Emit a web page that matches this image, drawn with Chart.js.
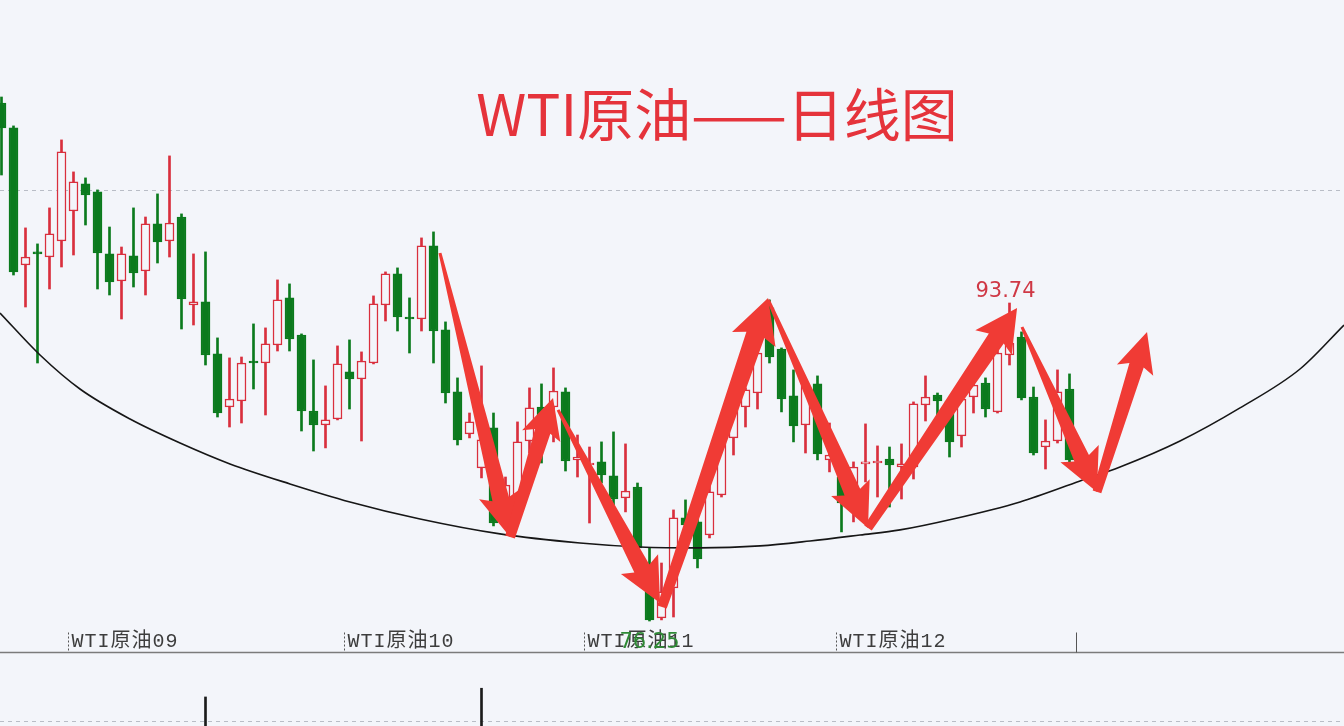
<!DOCTYPE html>
<html>
<head>
<meta charset="utf-8">
<script src="https://cdn.jsdelivr.net/npm/chart.js@4.4.1/dist/chart.umd.min.js"></script>
<style>
  html, body { margin: 0; padding: 0; background: #f3f5fa; }
  #wrap { width: 1344px; height: 726px; position: relative; }
</style>
</head>
<body>
<div id="wrap"><canvas id="kline"></canvas></div>
<script>
// daily candles, oldest first
const opens = [104.74,103.37,95.83,96.55,96.27,97.15,98.80,100.29,99.85,96.44,
  94.95,96.33,95.50,98.09,97.15,98.47,93.63,93.80,90.94,88.02,
  88.35,90.55,90.44,91.43,94.02,91.98,87.80,87.03,87.36,89.95,
  89.56,90.44,93.63,95.34,92.97,92.86,96.88,92.26,88.85,86.54,
  84.67,86.87,82.91,82.74,86.15,88.02,88.02,88.85,85.11,84.83,
  85.00,84.23,83.02,83.62,79.22,76.42,78.07,81.92,81.70,80.98,
  83.18,86.32,88.02,88.79,93.47,91.21,88.63,87.03,89.29,85.11,
  84.17,83.46,84.89,84.94,85.16,84.72,84.72,88.13,88.68,88.35,
  86.43,88.57,89.34,87.75,90.88,91.87,88.57,85.82,86.15,89.01];
const highs = [105.07,103.48,97.87,96.99,98.97,102.71,100.95,100.62,99.96,97.92,
  96.82,98.97,98.47,99.74,101.83,98.64,96.44,96.55,91.82,90.72,
  90.77,92.59,92.37,95.01,94.79,92.04,90.61,89.18,91.38,91.71,
  91.05,94.13,95.45,95.67,94.02,97.32,97.65,92.70,89.62,87.69,
  90.28,87.69,84.17,87.20,89.07,89.29,90.17,89.07,86.48,85.82,
  86.10,86.65,85.99,83.84,80.27,79.44,82.36,82.91,82.19,84.01,
  86.48,88.13,89.07,91.32,93.91,91.27,90.06,89.23,89.73,87.14,
  84.45,85.00,87.09,85.88,85.82,85.99,88.30,89.73,88.79,88.52,
  88.79,89.40,89.62,91.16,93.74,92.15,89.12,87.31,90.06,89.84];
const lows = [100.78,95.28,93.52,90.44,94.51,95.72,96.38,98.03,94.51,94.18,
  92.86,94.62,94.18,95.94,96.27,92.31,92.53,90.33,87.47,86.92,
  87.14,89.01,87.58,91.10,91.10,86.70,85.60,85.77,87.31,87.91,
  86.15,90.39,92.75,92.20,90.99,92.20,90.44,88.24,85.93,86.32,
  84.12,81.48,82.63,82.63,85.49,84.94,86.10,84.50,84.17,81.64,
  83.84,82.63,82.25,80.05,76.25,76.31,76.47,81.26,79.17,80.82,
  83.07,85.38,86.92,87.91,90.44,87.75,86.10,85.49,85.11,84.45,
  81.15,81.70,83.90,83.07,82.52,82.96,84.06,87.25,87.47,85.27,
  85.82,87.69,87.47,87.69,90.33,88.41,85.38,84.61,86.04,85.00];
const closes = [103.37,95.45,96.27,96.44,97.54,102.05,100.40,99.68,96.49,94.90,
  96.44,95.39,98.09,97.10,98.14,93.96,93.80,90.88,87.69,88.46,
  90.44,90.44,91.49,93.91,91.76,87.80,87.03,87.31,90.39,89.56,
  90.55,93.69,95.34,92.97,92.86,96.88,92.20,88.79,86.21,87.20,
  86.21,81.64,83.73,86.10,87.97,86.76,88.90,85.05,85.27,84.94,
  84.28,82.96,83.40,80.27,76.31,77.85,81.92,81.53,79.66,83.35,
  86.21,87.97,88.96,90.99,90.77,88.46,86.98,89.18,85.44,85.38,
  82.74,84.72,85.00,85.05,84.83,84.89,88.19,88.57,88.35,86.10,
  88.46,89.23,87.91,90.99,91.54,88.52,85.49,86.15,88.85,85.11];

// volume bars that reach into the visible strip (thousand lots)
const volIdx = [17, 40];
const volume = [40, 52];

// month boundaries on the time axis
const monthTicks = [5.5, 28.5, 48.5, 69.5, 89.5];
const monthLabels = ['WTI原油09', 'WTI原油10', 'WTI原油11', 'WTI原油12', ''];

// hand-drawn bowl curve (candle index, price)
const curveX = [-0.125, 3.21, 6.54, 10.71, 14.88, 19.04, 24.04, 29.04, 34.88, 41.54,
  48.21, 53.21, 58.21, 63.21, 67.38, 71.54, 74.88, 79.29, 84.88, 89.88,
  93.21, 98.21, 103.21, 108.21, 111.875];
const curveY = [93.19, 90.88, 89.01, 87.36, 86.04, 84.89, 83.79, 82.80, 81.86, 81.04,
  80.54, 80.32, 80.27, 80.38, 80.65, 80.98, 81.26, 81.86, 82.80, 83.95,
  84.72, 86.15, 87.97, 90.11, 92.53];

const refLevel = 99.96;
const highLabel = 84;
const lowLabel = 54;

// annotation arrows: from / to in (index, price)
const arrows = [
  { from: [36.54, 96.49], to: [42.38, 80.87], tail: 1.5, shaft: 8.5, head: 21, len: 44 },
  { from: [42.38, 80.87], to: [45.96, 88.52], tail: 5, shaft: 8, head: 20, len: 40 },
  { from: [46.38, 87.86], to: [54.88, 77.24], tail: 1.5, shaft: 8.5, head: 21, len: 44 },
  { from: [55.04, 77.02], to: [63.88, 94.02], tail: 5, shaft: 9.5, head: 23, len: 44 },
  { from: [63.90, 93.91], to: [72.21, 81.37], tail: 1.5, shaft: 8.5, head: 21, len: 44 },
  { from: [72.21, 81.37], to: [84.63, 93.47], tail: 4.5, shaft: 9, head: 22, len: 42 },
  { from: [85.04, 92.42], to: [91.29, 83.35], tail: 1.5, shaft: 8, head: 21, len: 42 },
  { from: [91.29, 83.35], to: [95.46, 92.15], tail: 4.5, shaft: 7.5, head: 19, len: 40 }
];

const bg = '#f3f5fa';
const upCol = '#d92f3d';
const downCol = '#0b7a1d';
const arrowCol = '#f03b35';

const idx = opens.map((_, i) => i);
const isUp = opens.map((o, i) => closes[i] > o);

const decor = {
  id: 'decor',
  beforeDatasetsDraw(chart) {
    const { ctx, chartArea: a, scales } = chart;
    ctx.save();
    ctx.strokeStyle = '#b9bdc6';
    ctx.lineWidth = 1;
    ctx.setLineDash([4, 4]);
    const ry = Math.round(scales.y.getPixelForValue(refLevel)) + 0.5;
    ctx.beginPath(); ctx.moveTo(a.left, ry); ctx.lineTo(a.right, ry); ctx.stroke();
    const vy = a.bottom - 4.5;
    ctx.beginPath(); ctx.moveTo(a.left, vy); ctx.lineTo(a.right, vy); ctx.stroke();
    ctx.restore();
  },
  afterDatasetsDraw(chart) {
    const { ctx, chartArea: a, scales } = chart;
    const px = v => scales.x.getPixelForValue(v);
    const py = v => scales.y.getPixelForValue(v);
    ctx.save();

    // arrows
    ctx.fillStyle = arrowCol;
    arrows.forEach(ar => {
      const sx = px(ar.from[0]), sy = py(ar.from[1]);
      const ex = px(ar.to[0]), ey = py(ar.to[1]);
      const d = Math.hypot(ex - sx, ey - sy);
      const ux = (ex - sx) / d, uy = (ey - sy) / d;
      const nx = -uy, ny = ux;
      const bx = ex - ux * ar.len, by = ey - uy * ar.len;
      const jx = bx + ux * 5, jy = by + uy * 5;
      ctx.beginPath();
      ctx.moveTo(sx + nx * ar.tail, sy + ny * ar.tail);
      ctx.lineTo(jx + nx * ar.shaft, jy + ny * ar.shaft);
      ctx.lineTo(bx + nx * ar.head, by + ny * ar.head);
      ctx.lineTo(ex, ey);
      ctx.lineTo(bx - nx * ar.head, by - ny * ar.head);
      ctx.lineTo(jx - nx * ar.shaft, jy - ny * ar.shaft);
      ctx.lineTo(sx - nx * ar.tail, sy - ny * ar.tail);
      ctx.closePath();
      ctx.fill();
    });

    // time axis
    const axisY = a.bottom - 73.5;
    ctx.strokeStyle = '#7b7b7b';
    ctx.lineWidth = 1.5;
    ctx.beginPath(); ctx.moveTo(a.left, axisY); ctx.lineTo(a.right, axisY); ctx.stroke();
    ctx.lineWidth = 1;
    ctx.font = '20px "Liberation Mono", "Noto Sans CJK SC", monospace';
    ctx.letterSpacing = '1px';
    ctx.textBaseline = 'alphabetic';
    ctx.textAlign = 'left';
    monthTicks.forEach((t, k) => {
      const x = Math.round(px(t)) + 0.5;
      ctx.strokeStyle = '#555';
      ctx.setLineDash(monthLabels[k] ? [2, 2] : []);
      ctx.beginPath(); ctx.moveTo(x, axisY - 20); ctx.lineTo(x, axisY); ctx.stroke();
      ctx.fillStyle = '#3d3d3d';
      ctx.fillText(monthLabels[k], x + 3, axisY - 6);
    });
    ctx.setLineDash([]);
    ctx.letterSpacing = '0px';

    // price tags
    ctx.font = '21px "DejaVu Sans", sans-serif';
    ctx.textAlign = 'center';
    ctx.fillStyle = '#cf3845';
    ctx.fillText(highs[highLabel].toFixed(2), px(highLabel) - 4, py(highs[highLabel]) - 6);
    ctx.fillStyle = '#2f8a36';
    ctx.fillText(lows[lowLabel].toFixed(2), px(lowLabel), axisY - 5);

    // title
    ctx.font = '57px "Noto Sans CJK SC", sans-serif';
    ctx.fillStyle = '#e5333b';
    ctx.fillText('WTI原油——日线图', 717, 136);
    ctx.restore();
  }
};

new Chart(document.getElementById('kline'), {
  type: 'bar',
  data: {
    datasets: [
      {
        type: 'line',
        data: curveX.map((x, i) => ({ x, y: curveY[i] })),
        borderColor: '#161616',
        borderWidth: 1.6,
        pointRadius: 0,
        cubicInterpolationMode: 'monotone',
        order: 0
      },
      {
        data: idx.map(i => ({ x: i, y: [opens[i], closes[i]] })),
        backgroundColor: isUp.map(u => u ? bg : downCol),
        borderColor: isUp.map(u => u ? upCol : downCol),
        borderWidth: 1.5,
        borderSkipped: false,
        barThickness: 9,
        grouped: false,
        order: 1
      },
      {
        data: idx.map(i => ({ x: i, y: [lows[i], highs[i]] })),
        backgroundColor: isUp.map(u => u ? upCol : downCol),
        borderWidth: 0,
        barThickness: 2,
        grouped: false,
        order: 2
      },
      {
        data: volIdx.map((x, i) => ({ x, y: volume[i] })),
        yAxisID: 'v',
        backgroundColor: '#1b1b1b',
        barThickness: 2,
        grouped: false,
        order: 3
      }
    ]
  },
  options: {
    responsive: true,
    maintainAspectRatio: false,
    animation: false,
    events: [],
    layout: { padding: 0 },
    plugins: { legend: { display: false }, tooltip: { enabled: false } },
    scales: {
      x: { type: 'linear', min: -0.125, max: 111.875, offset: false, display: false },
      y: { type: 'linear', min: 70.475, max: 110.405, display: false },
      v: { type: 'linear', min: 0, max: 1000, display: false }
    }
  },
  plugins: [decor]
});
</script>
</body>
</html>
